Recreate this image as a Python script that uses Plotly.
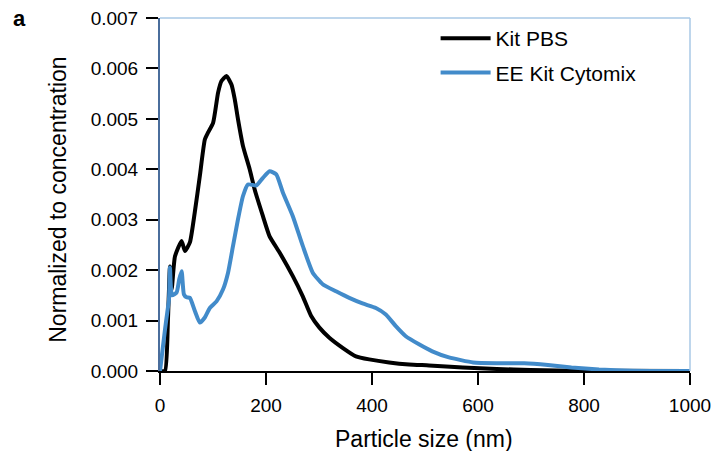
import plotly.graph_objects as go

# Kit PBS
pbs_size = [0, 9.4, 15.0, 18.8, 22.0, 28.2, 40.8, 47.0, 56.4, 65.8, 75.2, 84.6, 90.8, 100.2,
            109.6, 116.0, 125.4, 134.8, 141.0, 147.2, 156.6, 169.2, 178.6, 194.2, 206.8, 225.6,
            250.6, 269.4, 285.2, 300.8, 319.5, 344.5, 369.7, 394.7, 432.3, 469.9, 507.5, 571.4,
            635.3, 699.2, 796, 1000]
pbs_conc = [0, 0, 0.00102, 0.00207, 0.00162, 0.00227, 0.00258, 0.00238, 0.00255, 0.00316,
            0.00387, 0.00459, 0.00473, 0.00492, 0.00552, 0.00575, 0.00585, 0.00568, 0.00539,
            0.00499, 0.00446, 0.0040, 0.0036, 0.00307, 0.00267, 0.00235, 0.00188, 0.00148,
            0.00109, 0.00086, 0.00066, 0.00046, 0.00029, 0.00023, 0.00017, 0.00013, 0.00011,
            0.00007, 0.00004, 0.00002, 0.000005, 0]

# EE Kit Cytomix
cyto_size = [0, 9.4, 13.7, 16.9, 18.8, 22.6, 31.4, 36.3, 40.8, 45.1, 50.2, 56.4, 65.8, 75.2,
             84.6, 94.0, 106.6, 119.0, 128.4, 137.8, 147.2, 156.6, 166.0, 181.8, 194.2, 206.8,
             219.4, 231.8, 250.6, 269.4, 288.2, 307.0, 332.1, 357.1, 382.1, 407.3, 426.1, 444.9,
             463.7, 488.7, 513.7, 545.1, 591, 635.3, 687.2, 732.1, 776.3, 828.2, 892.5, 1000]
cyto_conc = [0, 0.00082, 0.00116, 0.00142, 0.00205, 0.0015, 0.00156, 0.00182, 0.00198, 0.00152,
             0.00146, 0.00145, 0.00119, 0.00096, 0.00106, 0.00125, 0.00138, 0.00162, 0.00195,
             0.00248, 0.00301, 0.00347, 0.0037, 0.00368, 0.00383, 0.00396, 0.0039, 0.00354,
             0.00307, 0.00248, 0.00195, 0.00172, 0.00158, 0.00145, 0.00134, 0.00125, 0.00112,
             0.00089, 0.00069, 0.00053, 0.00039, 0.00027, 0.00017, 0.000155, 0.000155, 0.00012,
             0.00007, 0.00003, 0.000005, 0]

x_ticks = [0, 200, 400, 600, 800, 1000]
y_ticks = [0, 0.001, 0.002, 0.003, 0.004, 0.005, 0.006, 0.007]
y_ticklabels = ["0.000", "0.001", "0.002", "0.003", "0.004", "0.005", "0.006", "0.007"]

FONT = "Liberation Sans, Arial, sans-serif"

fig = go.Figure()
fig.add_trace(go.Scatter(x=pbs_size, y=pbs_conc, mode="lines", name="Kit PBS",
                         line=dict(color="black", width=4, shape="spline", smoothing=0.5),
                         legendgroup="a"))
fig.add_trace(go.Scatter(x=cyto_size, y=cyto_conc, mode="lines", name="EE Kit Cytomix",
                         line=dict(color="#428bca", width=4, shape="spline", smoothing=0.5),
                         legendgroup="b"))

fig.update_layout(
    width=718, height=451,
    margin=dict(l=160, r=28, t=18, b=80, autoexpand=False),
    paper_bgcolor="white", plot_bgcolor="white",
    font=dict(family=FONT, size=19, color="black"),
    showlegend=True,
    legend=dict(x=0.52, y=1.0, xanchor="left", yanchor="top",
                bgcolor="rgba(0,0,0,0)", font=dict(size=21),
                traceorder="grouped", tracegroupgap=4, itemwidth=50),
    xaxis=dict(range=[0, 1000], tickvals=x_ticks, ticks="outside", ticklen=12,
               tickcolor="black", tickwidth=1.5, showline=True, linecolor="black", linewidth=1.5,
               showgrid=False, zeroline=False, ticklabelstandoff=4,
               tickfont=dict(size=19)),
    yaxis=dict(range=[0, 0.007], tickvals=y_ticks, ticktext=y_ticklabels, ticks="outside",
               ticklen=12, tickcolor="black", tickwidth=1.5, showline=True, linecolor="#4a6d9c",
               linewidth=2, showgrid=False, zeroline=False, ticklabelstandoff=4,
               ticklabeloverflow="allow", tickfont=dict(size=19)),
)

# axis titles
fig.add_annotation(text="Particle size (nm)", xref="paper", yref="paper", x=0.498, y=-0.192,
                   xanchor="center", yanchor="middle", showarrow=False,
                   font=dict(size=23, family=FONT))
fig.add_annotation(text="Normalized to concentration", xref="paper", yref="paper",
                   x=-0.1925, y=0.485, textangle=-90, xanchor="center", yanchor="middle",
                   showarrow=False, font=dict(size=23, family=FONT))

# light blue frame on top and right
fig.add_shape(type="line", xref="paper", yref="paper", x0=0, x1=1, y0=1, y1=1,
              line=dict(color="#a9c8e6", width=1.5))
fig.add_shape(type="line", xref="paper", yref="paper", x0=1, x1=1, y0=0, y1=1,
              line=dict(color="#a9c8e6", width=1.5))

fig.add_annotation(text="<b>a</b>", xref="paper", yref="paper", x=-0.266, y=0.9986,
                   xanchor="center", yanchor="middle", showarrow=False,
                   font=dict(size=22, family=FONT))

fig.write_html("out.html", config={"displayModeBar": False},
               post_script="document.body.style.margin='0';")
